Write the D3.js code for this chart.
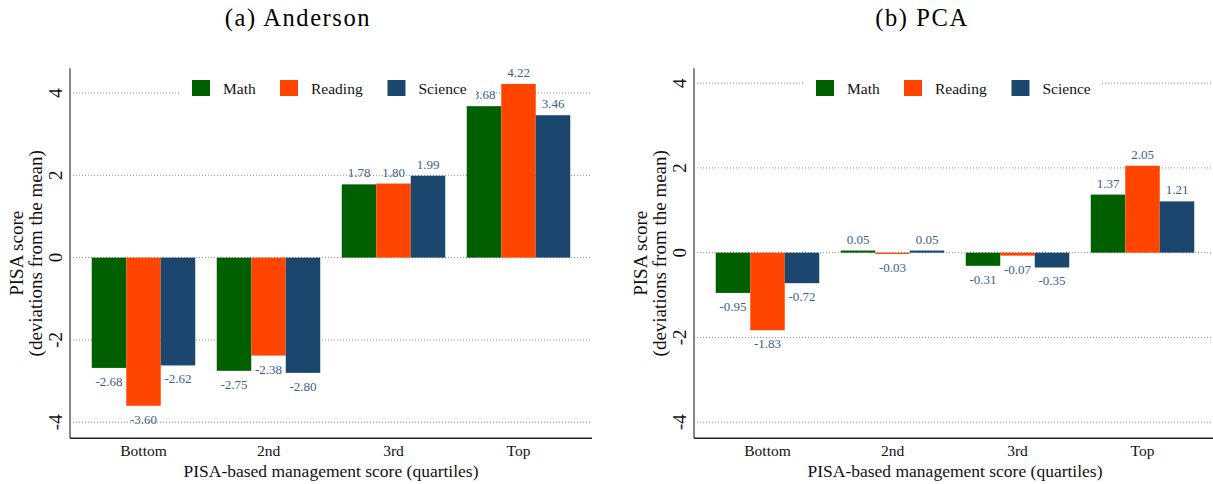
<!DOCTYPE html>
<html>
<head>
<meta charset="utf-8">
<script src="https://cdn.jsdelivr.net/npm/d3@7"></script>
<style>
  body { margin: 0; background: #fff; }
  svg { display: block; font-family: "Liberation Serif", "Times New Roman", serif; }
</style>
</head>
<body>
<svg id="chart"></svg>
<script>
// data
const quartiles = ["Bottom", "2nd", "3rd", "Top"];
const subjects = ["Math", "Reading", "Science"];
const subjectColors = ["#006000", "#ff4500", "#1b476f"];

const andersonMath = [-2.68, -2.75, 1.78, 3.68];
const andersonReading = [-3.60, -2.38, 1.80, 4.22];
const andersonScience = [-2.62, -2.80, 1.99, 3.46];

const pcaMath = [-0.95, 0.05, -0.31, 1.37];
const pcaReading = [-1.83, -0.03, -0.07, 2.05];
const pcaScience = [-0.72, 0.05, -0.35, 1.21];

const yTicks = [-4, -2, 0, 2, 4];
const yTitle = ["PISA score", "(deviations from the mean)"];
const xTitle = "PISA-based management score (quartiles)";

const width = 1213;
const height = 484;
const plotTop = 68.3;
const plotBottom = 438.3;
const plotWidth = 522;

// stata style labels, plain hyphen for the minus sign
const fmt = v => d3.format(".2f")(v).replace("\u2212", "-");

const svg = d3.select("#chart")
    .attr("width", width)
    .attr("height", height);

const panels = [
  { title: "(a) Anderson", titleX: 298, left: 70, yDomain: [-4.39, 4.6],
    series: [andersonMath, andersonReading, andersonScience] },
  { title: "(b) PCA", titleX: 922, left: 694, yDomain: [-4.38, 4.35],
    series: [pcaMath, pcaReading, pcaScience] }
];

panels.forEach(drawPanel);

function drawPanel(p) {
    const g = svg.append("g");
    const right = p.left + plotWidth;
    const center = p.left + plotWidth / 2;

    const y = d3.scaleLinear()
        .domain(p.yDomain)
        .range([plotBottom, plotTop]);

    const x0 = d3.scaleBand()
        .domain(quartiles)
        .range([p.left + 11, p.left + 511])
        .paddingInner(0.172)
        .paddingOuter(0.086);

    const x1 = d3.scaleBand()
        .domain(subjects)
        .range([0, x0.bandwidth()]);

    // dotted gridlines
    g.selectAll(".grid")
        .data(yTicks)
        .enter().append("line")
        .attr("x1", p.left)
        .attr("x2", right)
        .attr("y1", d => y(d))
        .attr("y2", d => y(d))
        .style("stroke", "#8a8a8a")
        .style("stroke-width", 1)
        .style("stroke-dasharray", "1,2");

    // bars
    const rows = [];
    quartiles.forEach((q, i) => {
        subjects.forEach((s, j) => {
            rows.push({ q: q, s: s, v: p.series[j][i], color: subjectColors[j] });
        });
    });

    g.selectAll(".bar")
        .data(rows)
        .enter().append("rect")
        .attr("x", d => x0(d.q) + x1(d.s))
        .attr("width", x1.bandwidth())
        .attr("y", d => y(Math.max(0, d.v)))
        .attr("height", d => Math.abs(y(d.v) - y(0)))
        .attr("fill", d => d.color);

    g.selectAll(".lbl")
        .data(rows)
        .enter().append("text")
        .attr("x", d => x0(d.q) + x1(d.s) + x1.bandwidth() / 2)
        .attr("y", d => d.v >= 0 ? y(d.v) - 7 : y(d.v) + 18)
        .attr("text-anchor", "middle")
        .attr("font-size", "13px")
        .attr("fill", "#3b5e8c")
        .text(d => fmt(d.v));

    // axes
    g.append("line")
        .attr("x1", p.left).attr("x2", p.left)
        .attr("y1", plotTop).attr("y2", plotBottom)
        .style("stroke", "#555").style("stroke-width", 1.4);
    g.append("line")
        .attr("x1", p.left).attr("x2", right)
        .attr("y1", plotBottom).attr("y2", plotBottom)
        .style("stroke", "#222").style("stroke-width", 1.4);

    g.selectAll(".ytick")
        .data(yTicks)
        .enter().append("text")
        .attr("transform", d => "translate(" + (p.left - 8) + "," + y(d) + ") rotate(-90)")
        .attr("text-anchor", "middle")
        .attr("font-size", "19px")
        .attr("fill", "#111")
        .text(d => d);

    g.selectAll(".xtick")
        .data(quartiles)
        .enter().append("text")
        .attr("x", d => x0(d) + x0.bandwidth() / 2)
        .attr("y", 456)
        .attr("text-anchor", "middle")
        .attr("font-size", "15.5px")
        .attr("fill", "#111")
        .text(d => d);

    g.append("text")
        .attr("x", center)
        .attr("y", 476.5)
        .attr("text-anchor", "middle")
        .attr("font-size", "17.5px")
        .attr("fill", "#111")
        .text(xTitle);

    g.selectAll(".ytitle")
        .data(yTitle)
        .enter().append("text")
        .attr("transform", (d, i) => "translate(" + (p.left - 47 + i * 19) + "," + (plotTop + plotBottom) / 2 + ") rotate(-90)")
        .attr("text-anchor", "middle")
        .attr("font-size", "19px")
        .attr("fill", "#111")
        .text(d => d);

    // legend, white box over the grid
    const lg = g.append("g");
    lg.append("rect")
        .attr("x", center - 151)
        .attr("y", 72)
        .attr("width", 296)
        .attr("height", 32)
        .attr("fill", "#fff");

    const legendX = d3.scaleOrdinal()
        .domain(subjects)
        .range([-139, -51, 56.5]);

    lg.selectAll(".sw")
        .data(subjects)
        .enter().append("rect")
        .attr("x", d => center + legendX(d))
        .attr("y", 80)
        .attr("width", 18)
        .attr("height", 16)
        .attr("fill", (d, i) => subjectColors[i]);

    lg.selectAll(".lt")
        .data(subjects)
        .enter().append("text")
        .attr("x", d => center + legendX(d) + 31)
        .attr("y", 93.5)
        .attr("font-size", "15.5px")
        .attr("fill", "#111")
        .text(d => d);

    // panel caption
    svg.append("text")
        .attr("x", p.titleX)
        .attr("y", 26)
        .attr("text-anchor", "middle")
        .attr("font-size", "24.5px")
        .attr("letter-spacing", "1.6px")
        .attr("fill", "#000")
        .text(p.title);
}
</script>
</body>
</html>
